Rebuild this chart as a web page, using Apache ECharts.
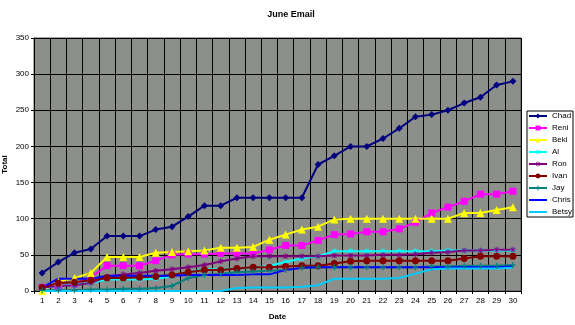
<!DOCTYPE html>
<html><head><meta charset="utf-8">
<script src="https://cdn.jsdelivr.net/npm/echarts@6/dist/echarts.min.js"></script>
<style>html,body{margin:0;padding:0;background:#fff}#c{width:575px;height:325px}</style>
</head><body><div id="c"></div>
<script>
const days = Array.from({length:30},(_,i)=>String(i+1));
const chad  = [25,40,53,58,76,76,76,85,89,103,118,118,129,129,129,129,129,175,187,200,200,211,225,241,244,250,260,268,285,290];
const reni  = [5,7,10,19,35,35,35,42,50,51,51,52,52,52,57,63,63,70,78,79,82,82,86,95,108,116,124,134,134,138];
const beki  = [0,13,18,25,47,47,47,53,54,55,56,60,60,61,71,78,85,89,99,100,100,100,100,100,100,100,108,108,112,116];
const al    = [4,7,9,11,16,16,16,17,20,26,30,30,31,32,35,40,45,48,55,55,55,55,55,55,55,56,56,56,56,56];
const ron   = [5,7,8,11,20,23,25,28,30,33,36,41,45,48,48,48,48,48,49,49,49,50,50,51,53,54,56,56,57,57];
const ivan  = [5,11,12,15,18,18,19,20,22,26,29,29,31,33,33,34,35,35,38,41,42,42,42,42,42,42,45,48,48,48];
const jay   = [1,1,1,2,2,3,3,4,7,18,22,24,26,27,28,29,32,33,33,33,33,33,33,33,34,34,35,35,35,36];
const chris = [5,17,17,17,21,21,21,21,21,22,22,22,22,23,23,29,32,33,33,33,33,33,33,33,33,33,33,33,33,34];
const betsy = [0,0,0,0,0,0,0,0,0,0,0,0,4,5,5,5,6,8,17,17,17,17,18,24,30,31,31,31,31,32];
const names = ['Chad','Reni','Beki','Al','Ron','Ivan','Jay','Chris','Betsy'];

const plusPath = 'path://M4,0h2v4h4v2h-4v4h-2v-4h-4v-2h4z';
const starPath = 'path://M4.3,0h1.4v3.3l2.4-2.4l1,1l-2.4,2.4h3.3v1.4h-3.3l2.4,2.4l-1,1l-2.4-2.4v3.3h-1.4v-3.3l-2.4,2.4l-1-1l2.4-2.4h-3.3v-1.4h3.3l-2.4-2.4l1-1l2.4,2.4z';
const lineIcon = 'path://M0,0h18v2h-18z';

function s(name, data, color, symbol, size){
  return {name, type:'line', data, symbol: symbol||'none', symbolSize:size||6, showSymbol:!!symbol,
    lineStyle:{color, width:2}, itemStyle:{color, borderWidth:0}, emphasis:{disabled:true}, animation:false};
}
const chart = echarts.init(document.getElementById('c'), null, {renderer:'canvas'});
chart.setOption({
  backgroundColor:'#fff',
  animation:false,
  textStyle:{fontFamily:'Liberation Sans, Arial, sans-serif'},
  title:{text:'June Email', left:286, top:5, textAlign:'center',
    textStyle:{fontSize:9, fontWeight:'bold', color:'#000', fontFamily:'Liberation Sans, Arial, sans-serif'}},
  grid:{left:34, right:54, top:38, bottom:34, outerBoundsMode:'none', containLabel:false,
    show:true, backgroundColor:'#8c8f8a', borderColor:'#555', borderWidth:1},
  legend:{orient:'vertical', left:527, top:111, itemWidth:18, itemHeight:6, itemGap:4,
    padding:[1,1,1,1], backgroundColor:'#fff', borderColor:'#000', borderWidth:1, borderRadius:0,
    symbolKeepAspect:true,
    textStyle:{fontSize:8, color:'#000', lineHeight:8},
    data:names.map(n => (n==='Chris'||n==='Betsy') ? {name:n, icon:lineIcon} : n)},
  xAxis:{type:'category', data:days, boundaryGap:true, name:'Date', nameLocation:'middle', nameGap:22,
    nameMoveOverlap:false,
    nameTextStyle:{fontSize:8, fontWeight:'bold', color:'#000'},
    axisLine:{lineStyle:{color:'#000'}}, axisTick:{show:true, interval:0, length:3, lineStyle:{color:'#000'}},
    axisLabel:{interval:0, fontSize:8, color:'#000', margin:6},
    splitLine:{show:true, interval:0, lineStyle:{color:'#000', width:1}}},
  yAxis:{type:'value', min:0, max:350, interval:50, name:'Total', nameLocation:'middle', nameGap:25,
    nameMoveOverlap:false,
    nameTextStyle:{fontSize:8, fontWeight:'bold', color:'#000'},
    axisLine:{show:true, lineStyle:{color:'#000'}}, axisTick:{show:true, length:3, lineStyle:{color:'#000'}},
    axisLabel:{fontSize:8, color:'#000', margin:5},
    splitLine:{show:true, lineStyle:{color:'#000', width:1}}},
  series:[
    s('Chad', chad, '#000080', 'diamond', 7),
    s('Reni', reni, '#ff00ff', 'rect', 7),
    s('Beki', beki, '#ffff00', 'triangle', 8),
    s('Al', al, '#00ffff', starPath, 6),
    s('Ron', ron, '#800080', starPath, 6),
    s('Ivan', ivan, '#800000', 'circle', 7),
    s('Jay', jay, '#008080', plusPath, 6),
    s('Chris', chris, '#0000ff'),
    s('Betsy', betsy, '#00ccff')
  ]
});
</script></body></html>
